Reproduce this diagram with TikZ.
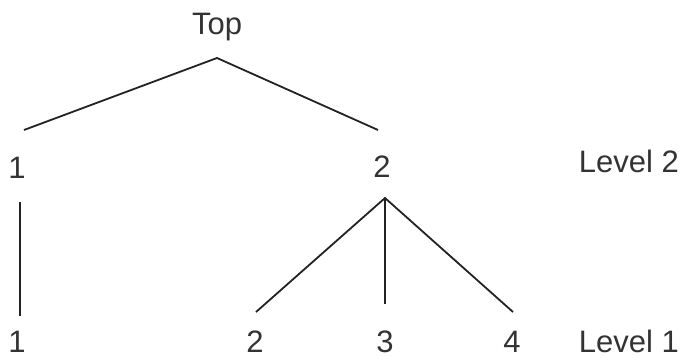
\documentclass[tikz,border=0pt]{standalone}
\usepackage{fontspec}
\setmainfont{Liberation Sans}
\definecolor{inkline}{HTML}{222222}
\definecolor{inktext}{HTML}{333333}
\tikzset{every path/.style={inkline, line width=1.8pt},
  every node/.style={text=inktext, inner sep=0pt, anchor=base, font=\fontsize{31}{36}\selectfont},
  level/.style={anchor=base west}}

\begin{document}
\begin{tikzpicture}[x=1pt,y=-1pt]
   \useasboundingbox (0,0) rectangle (684,358);
   \node (top) at (217,35) {Top};
   \node (a) at ( 17,178) {1};
   \node (b) at (382,177) {2};
   \node[level] (lvtwo) at (578,172) {Level 2};
   \node (aa) at ( 17,352) {1};
   \node (ba) at (255,352) {2};
   \node (bb) at (385,352) {3};
   \node (bc) at (512,352) {4};
   \node[level] (lvone) at (578,352) {Level 1};
   \coordinate (top j) at (217, 58);
   \coordinate (a up)  at ( 24,130);
   \coordinate (b up)  at (378,130);
   \coordinate (a dn)  at ( 20,202);
   \coordinate (aa up) at ( 20,316);
   \coordinate (b j)   at (385,198);
   \coordinate (ba up) at (256,312);
   \coordinate (bb up) at (385,304);
   \coordinate (bc up) at (513,312);
   \draw (a up) -- (top j) -- (b up);
   \draw (a dn) -- (aa up);
   \draw (ba up) -- (b j) -- (bc up);
   \draw (b j) -- (bb up);
\end{tikzpicture}
\end{document}
